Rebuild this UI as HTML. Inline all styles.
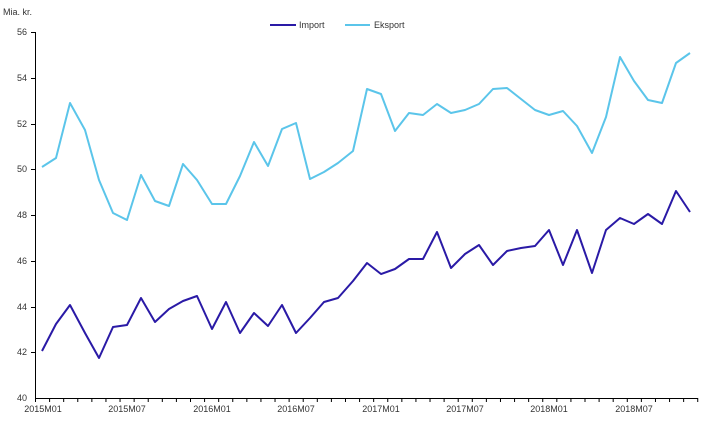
<!DOCTYPE html>
<html><head><meta charset="utf-8"><style>html,body{margin:0;padding:0;background:#fff}svg{display:block}text{font-family:"Liberation Sans",sans-serif;font-size:9px;fill:#333}</style></head>
<body>
<svg width="706" height="427" xmlns="http://www.w3.org/2000/svg">
<text x="3" y="15">Mia. kr.</text>
<g text-anchor="end">
<text x="27" y="35">56</text><text x="27" y="81">54</text><text x="27" y="127">52</text><text x="27" y="172">50</text><text x="27" y="218">48</text><text x="27" y="264">46</text><text x="27" y="310">44</text><text x="27" y="355">42</text><text x="27" y="401">40</text>
</g>
<g stroke="#000" stroke-width="1">
<line x1="35.5" y1="32" x2="35.5" y2="398"/>
<line x1="35" y1="398.5" x2="697.5" y2="398.5"/>
<line x1="31" y1="32.5" x2="35" y2="32.5"/><line x1="31" y1="78.5" x2="35" y2="78.5"/><line x1="31" y1="124.5" x2="35" y2="124.5"/><line x1="31" y1="169.5" x2="35" y2="169.5"/><line x1="31" y1="215.5" x2="35" y2="215.5"/><line x1="31" y1="261.5" x2="35" y2="261.5"/><line x1="31" y1="307.5" x2="35" y2="307.5"/><line x1="31" y1="352.5" x2="35" y2="352.5"/>
</g>
<g id="ticks" stroke="#000"></g>
<g text-anchor="middle">
<text x="43" y="412">2015M01</text><text x="127" y="412">2015M07</text><text x="212" y="412">2016M01</text><text x="296" y="412">2016M07</text><text x="381" y="412">2017M01</text><text x="465" y="412">2017M07</text><text x="549" y="412">2018M01</text><text x="634" y="412">2018M07</text>
</g>
<line x1="270" y1="25" x2="296" y2="25" stroke="#2a1aa6" stroke-width="2"/><text x="299" y="28">Import</text>
<line x1="345" y1="25" x2="370" y2="25" stroke="#5bc5ea" stroke-width="2"/><text x="374" y="28">Eksport</text>
<polyline fill="none" stroke="#5bc5ea" stroke-width="2" stroke-linejoin="round" points="42,167 56,158 70,103 85,130 99,180 113,213 127,220 141,175 155,201 169,206 183,164 197,180 212,204 226,204 240,176 254,142 268,166 282,129 296,123 310,179 324,172 338,163 353,151 367,89 381,94 395,131 409,113 423,115 437,104 451,113 465,110 479,104 493,89 507,88 521,99 535,110 549,115 563,111 577,126 592,153 606,117 620,57 634,81 648,100 662,103 676,63 690,53"/>
<polyline fill="none" stroke="#2a1aa6" stroke-width="2" stroke-linejoin="round" points="42,351 56,324 70,305 85,333 99,358 113,327 127,325 141,298 155,322 169,309 183,301 197,296 212,329 226,302 240,333 254,313 268,326 282,305 296,333 310,318 324,302 338,298 353,281 367,263 381,274 395,269 409,259 423,259 437,232 451,268 465,254 479,245 493,265 507,251 521,248 535,246 549,230 563,265 577,230 592,273 606,230 620,218 634,224 648,214 662,224 676,191 690,212"/>
<script>
var g=document.getElementById('ticks');for(var i=0;i<=47;i++){var x=35.5+i*14.09;var l=document.createElementNS('http://www.w3.org/2000/svg','line');l.setAttribute('x1',x);l.setAttribute('x2',x);l.setAttribute('y1',398);l.setAttribute('y2',402);g.appendChild(l);}
</script>
</svg>
</body></html>
